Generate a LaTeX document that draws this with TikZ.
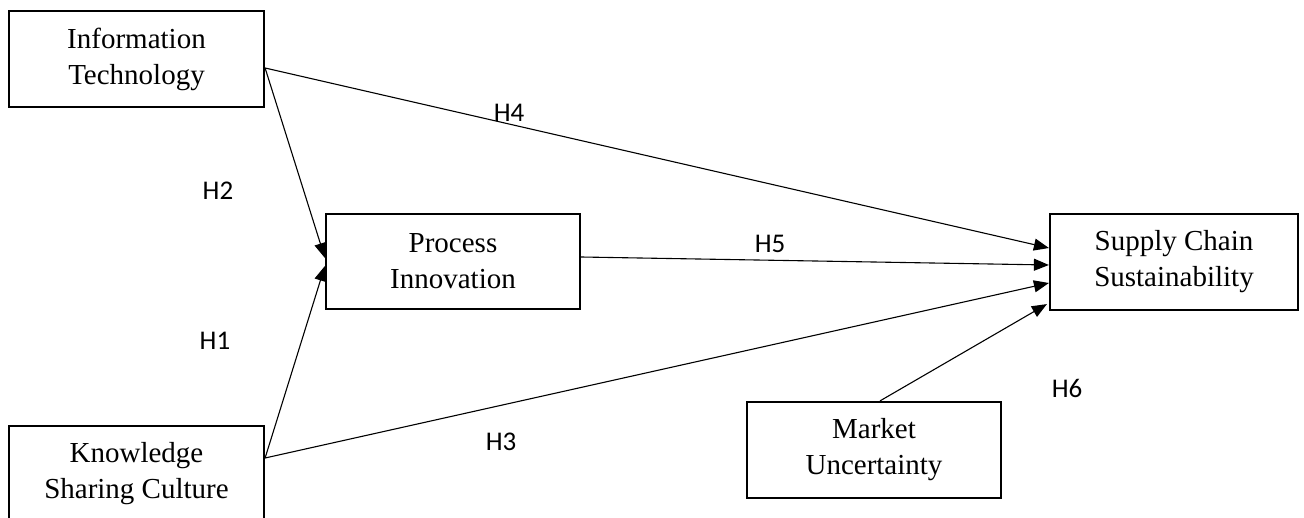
\documentclass[tikz,border=0pt]{standalone}
\usepackage{fontspec}
\setmainfont{Liberation Serif}
\newfontfamily\labfont{Carlito}
\usetikzlibrary{arrows.meta}
\begin{document}
\begin{tikzpicture}[x=1pt,y=-1pt,
  box/.style={draw,line width=2.2pt,minimum width=#1,minimum height=96pt,inner sep=0pt,
    align=center,font=\fontsize{29}{36}\selectfont},
  box/.default=255pt,
  conn/.style={line width=1.1pt,-{Triangle[length=15pt,width=12pt]}},
  hyp/.style={font=\labfont\fontsize{27}{30}\selectfont,inner sep=0pt}]
\useasboundingbox (0,0) rectangle (1304,518);
\node[box] (it) at (136.5,59) {Information\\Technology};
\node[box] (ksc) at (136.5,474) {Knowledge\\Sharing Culture};
\node[box=254pt,minimum height=95pt] (pi) at (453,261.5) {Process\\Innovation};
\node[box=248pt] (scs) at (1174,262) {Supply Chain\\Sustainability};
\node[box=254pt] (mu) at (874,450) {Market\\Uncertainty};
\draw[conn] ([yshift=-9pt]it.east) -- ([yshift=3.5pt]pi.west);
\draw[conn] ([yshift=16pt]ksc.east) -- ([yshift=-4.5pt]pi.west);
\draw[conn] ([yshift=16pt]ksc.east) -- ([yshift=-21pt]scs.west);
\draw[conn] ([yshift=-9pt]it.east) -- ([yshift=14pt]scs.west);
\draw[conn] ([yshift=4.5pt]pi.east) -- ([yshift=-3pt]scs.west);
\draw[conn] ([xshift=6pt]mu.north) -- ([xshift=-2pt,yshift=7pt]scs.south west);
\node[hyp] (h4) at (509,113) {H4};
\node[hyp] (h2) at (218,191) {H2};
\node[hyp] (h5) at (770,244) {H5};
\node[hyp] (h1) at (215,341) {H1};
\node[hyp] (h3) at (501,442) {H3};
\node[hyp] (h6) at (1067,388) {H6};
\end{tikzpicture}
\end{document}
